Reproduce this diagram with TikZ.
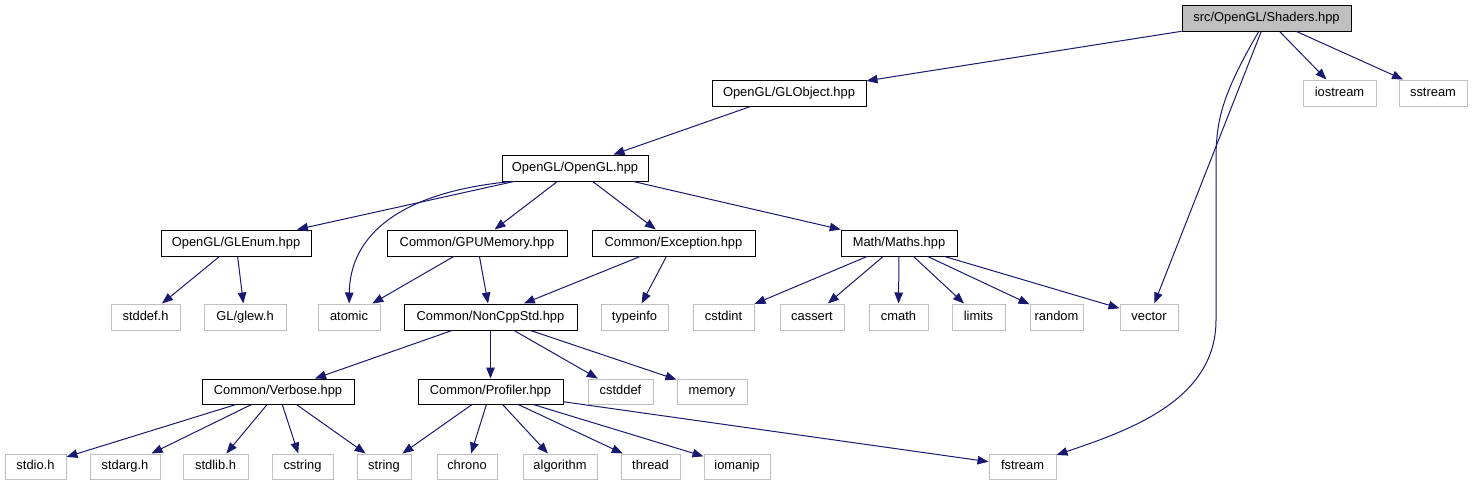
\documentclass[tikz,border=0pt]{standalone}
\usepackage{fontspec}
\setmainfont{Liberation Sans}
\usetikzlibrary{arrows.meta}
\definecolor{edgec}{HTML}{191970}
\definecolor{grayb}{HTML}{BFBFBF}
\begin{document}
\begin{tikzpicture}[x=1pt,y=-1pt,
  box/.style={draw=black, line width=1pt, inner sep=0pt, minimum height=25pt,
    text height=9.3pt, text depth=3pt, font=\fontsize{12.9}{15}\selectfont, anchor=center},
  sys/.style={box, draw=grayb},
  edge/.style={draw=edgec, line width=1pt, -{Triangle[length=11pt,width=8.5pt]}}]
\useasboundingbox (0,0) rectangle (1475,485);
\fill[white] (0,0) rectangle (1475,485);
% row 0
\node[box, fill=grayb, minimum width=169pt, minimum height=26pt] (shaders) at (1266.5,18) {src/OpenGL/Shaders.hpp};
% row 1
\node[box, minimum width=154pt, minimum height=26pt] (globject) at (789,93) {OpenGL/GLObject.hpp};
\node[sys, minimum width=73pt, minimum height=26pt] (iostream) at (1339.5,93) {iostream};
\node[sys, minimum width=68pt, minimum height=26pt] (sstream) at (1433,93) {sstream};
% row 2
\node[box, minimum width=146pt, minimum height=26pt] (opengl) at (575,168) {OpenGL/OpenGL.hpp};
% row 3
\node[box, minimum width=150pt, minimum height=26pt] (glenum) at (236,243) {OpenGL/GLEnum.hpp};
\node[box, minimum width=180pt, minimum height=26pt] (gpumem) at (477,243) {Common/GPUMemory.hpp};
\node[box, minimum width=163pt, minimum height=26pt] (exception) at (673.5,243) {Common/Exception.hpp};
\node[box, minimum width=116pt, minimum height=26pt] (maths) at (899,243) {Math/Maths.hpp};
% row 4
\node[sys, minimum width=69pt, minimum height=26pt] (stddef) at (145.5,317) {stddef.h};
\node[sys, minimum width=82pt, minimum height=26pt] (glew) at (245,317) {GL/glew.h};
\node[sys, minimum width=62pt, minimum height=26pt] (atomic) at (349,317) {atomic};
\node[box, minimum width=173pt, minimum height=26pt] (noncpp) at (490.5,317) {Common/NonCppStd.hpp};
\node[sys, minimum width=67pt, minimum height=26pt] (typeinfo) at (634.5,317) {typeinfo};
\node[sys, minimum width=61pt, minimum height=26pt] (cstdint) at (723.5,317) {cstdint};
\node[sys, minimum width=64pt, minimum height=26pt] (cassert) at (812,317) {cassert};
\node[sys, minimum width=59pt, minimum height=26pt] (cmath) at (898.5,317) {cmath};
\node[sys, minimum width=53pt, minimum height=26pt] (limits) at (978.5,317) {limits};
\node[sys, minimum width=53pt, minimum height=26pt] (random) at (1056.5,317) {random};
\node[sys, minimum width=58pt, minimum height=26pt] (vector) at (1149,317) {vector};
% row 5
\node[box, minimum width=152pt] (verbose) at (278,391.5) {Common/Verbose.hpp};
\node[box, minimum width=145pt] (profiler) at (490.5,391.5) {Common/Profiler.hpp};
\node[sys, minimum width=65pt] (cstddef) at (620.5,391.5) {cstddef};
\node[sys, minimum width=70pt] (memory) at (712,391.5) {memory};
% row 6
\node[sys, minimum width=61pt] (stdio) at (35.5,466.5) {stdio.h};
\node[sys, minimum width=70pt] (stdarg) at (125,466.5) {stdarg.h};
\node[sys, minimum width=65pt] (stdlib) at (215.5,466.5) {stdlib.h};
\node[sys, minimum width=61pt] (cstring) at (302.5,466.5) {cstring};
\node[sys, minimum width=54pt] (string) at (384,466.5) {string};
\node[sys, minimum width=60pt] (chrono) at (467,466.5) {chrono};
\node[sys, minimum width=74pt] (algorithm) at (560,466.5) {algorithm};
\node[sys, minimum width=59pt] (thread) at (650.5,466.5) {thread};
\node[sys, minimum width=66pt] (iomanip) at (737,466.5) {iomanip};
\node[sys, minimum width=67pt] (fstream) at (1022.5,466.5) {fstream};
\coordinate (fa) at (1216,160);
\coordinate (fb) at (1216,320);
% edges
\draw[edge] (shaders) -- (globject);
\draw[edge] (shaders) -- (iostream);
\draw[edge] (shaders) -- (sstream);
\draw[edge] (shaders) -- (vector);
\draw[edge] (shaders) .. controls (1222,95) and (1216,120) .. (fa) -- (fb) .. controls (1216,400) and (1130,430) .. (fstream);
\draw[edge] (globject) -- (opengl);
\draw[edge] (opengl) -- (glenum);
\draw[edge] ([xshift=10pt]opengl.south west) .. controls (400,192) and (350,235) .. (atomic);
\draw[edge] (opengl) -- (gpumem);
\draw[edge] (opengl) -- (exception);
\draw[edge] (opengl) -- (maths);
\draw[edge] (glenum) -- (stddef);
\draw[edge] (glenum) -- (glew);
\draw[edge] (gpumem) -- (atomic);
\draw[edge] (gpumem) -- (noncpp);
\draw[edge] (exception) -- (noncpp);
\draw[edge] (exception) -- (typeinfo);
\foreach \t in {cstdint,cassert,cmath,limits,random,vector}
  \draw[edge] (maths) -- (\t);
\foreach \t in {verbose,profiler,cstddef,memory}
  \draw[edge] (noncpp) -- (\t);
\foreach \t in {stdio,stdarg,stdlib,cstring,string}
  \draw[edge] (verbose) -- (\t);
\foreach \t in {string,chrono,algorithm,thread,iomanip,fstream}
  \draw[edge] (profiler) -- (\t);
\end{tikzpicture}
\end{document}
